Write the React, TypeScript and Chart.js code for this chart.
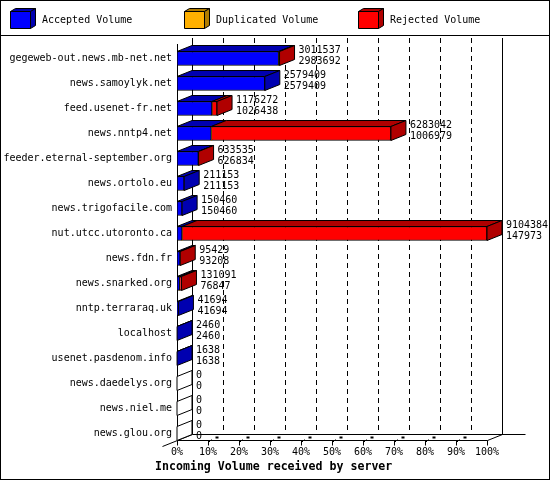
import React, { useEffect, useRef } from 'react';
import { Chart, registerables } from 'chart.js';

Chart.register(...registerables);

const servers = [
  'gegeweb-out.news.mb-net.net',
  'news.samoylyk.net',
  'feed.usenet-fr.net',
  'news.nntp4.net',
  'feeder.eternal-september.org',
  'news.ortolo.eu',
  'news.trigofacile.com',
  'nut.utcc.utoronto.ca',
  'news.fdn.fr',
  'news.snarked.org',
  'nntp.terraraq.uk',
  'localhost',
  'usenet.pasdenom.info',
  'news.daedelys.org',
  'news.niel.me',
  'news.glou.org',
];

// total incoming volume per server (first number printed next to the bar)
const totalVolume = [3011537, 2579409, 1176272, 6283042, 633535, 211153, 150460, 9104384, 95429, 131091, 41694, 2460, 1638, 0, 0, 0];
// accepted volume (second number)
const acceptedVolume = [2983692, 2579409, 1026438, 1006979, 626834, 211153, 150460, 147973, 93208, 76847, 41694, 2460, 1638, 0, 0, 0];
const duplicatedVolume = [0, 0, 0, 0, 0, 0, 0, 0, 0, 0, 0, 0, 0, 0, 0, 0];

const percentTicks = [0, 10, 20, 30, 40, 50, 60, 70, 80, 90, 100];

const seriesNames = ['Accepted Volume', 'Duplicated Volume', 'Rejected Volume'];
const frontColors = ['#0000ff', '#ffb000', '#ff0000'];
const shadeColors = ['#0000b0', '#b07c00', '#b00000'];

const FONT = '"DejaVu Sans Mono", monospace';
const DX = 15;
const DY = 6;

const maxVolume = Math.max(...totalVolume);
const toPct = (v: number) => (v / maxVolume) * 100;

const rejectedVolume = totalVolume.map((t, i) => t - acceptedVolume[i] - duplicatedVolume[i]);

function poly(ctx: CanvasRenderingContext2D, pts: number[][], fill: string | null) {
  ctx.beginPath();
  ctx.moveTo(pts[0][0], pts[0][1]);
  for (let i = 1; i < pts.length; i++) ctx.lineTo(pts[i][0], pts[i][1]);
  ctx.closePath();
  if (fill) {
    ctx.fillStyle = fill;
    ctx.fill();
  }
  ctx.strokeStyle = '#000';
  ctx.lineWidth = 1;
  ctx.stroke();
}

function line(ctx: CanvasRenderingContext2D, x1: number, y1: number, x2: number, y2: number) {
  ctx.beginPath();
  ctx.moveTo(x1, y1);
  ctx.lineTo(x2, y2);
  ctx.stroke();
}

const threeD = {
  id: 'threeD',
  beforeDatasetsDraw(chart: any) {
    const { ctx, chartArea, scales } = chart;
    const x = scales.x;
    const left = Math.round(x.getPixelForValue(0)) + 0.5;
    const right = Math.round(x.getPixelForValue(100)) + 0.5;
    const frontTop = chartArea.top - 2;
    const floorFront = Math.round(chartArea.bottom - 6) + 0.5;
    const floorBack = floorFront - DY;
    const backTop = frontTop - DY;

    ctx.save();
    ctx.strokeStyle = '#000';
    ctx.lineWidth = 1;

    // dashed grid on the back wall
    ctx.setLineDash([5, 4]);
    percentTicks.slice(1, -1).forEach((v) => {
      const bx = Math.round(x.getPixelForValue(v)) + DX + 0.5;
      line(ctx, bx, backTop, bx, floorBack);
    });
    ctx.setLineDash([]);

    // walls
    line(ctx, left + DX, backTop, left + DX, floorBack);
    line(ctx, right + DX, backTop, right + DX, floorBack);
    line(ctx, left, frontTop, left, floorFront);

    // floor
    line(ctx, left + DX, floorBack, right + DX + 23, floorBack);
    line(ctx, left, floorFront, right, floorFront);
    line(ctx, left - DX, floorFront + DY, left + DX, floorBack);
    line(ctx, right, floorFront, right + DX, floorBack);

    // tick marks on the floor
    ctx.fillStyle = '#000';
    percentTicks.forEach((v) => {
      const tx = Math.round(x.getPixelForValue(v)) + 0.5;
      line(ctx, tx, floorFront, tx, floorFront + 5);
      if (v > 0 && v < 100) {
        line(ctx, tx, floorFront + 2, tx + 3, floorFront - 1);
        ctx.fillRect(tx + 7, floorFront - 4, 3, 2);
      }
    });
    ctx.restore();
  },
  afterDatasetsDraw(chart: any) {
    const { ctx } = chart;
    const metas = [0, 1, 2].map((d) => chart.getDatasetMeta(d));
    ctx.save();
    servers.forEach((_, i) => {
      const values = [acceptedVolume[i], duplicatedVolume[i], rejectedVolume[i]];
      const els = metas.map((m: any) => m.data[i].getProps(['x', 'y', 'base', 'height'], true));
      const top = els[0].y - els[0].height / 2;
      const bottom = els[0].y + els[0].height / 2;
      let last = -1;
      values.forEach((v, d) => {
        if (v <= 0) return;
        last = d;
        const x0 = Math.min(els[d].base, els[d].x);
        const x1 = Math.max(els[d].base, els[d].x);
        poly(ctx, [[x0, top], [x1, top], [x1 + DX, top - DY], [x0 + DX, top - DY]], shadeColors[d]);
      });
      const endX = last >= 0 ? Math.max(els[last].base, els[last].x) : els[0].base;
      poly(
        ctx,
        [[endX, top], [endX + DX, top - DY], [endX + DX, bottom - DY], [endX, bottom]],
        last >= 0 ? shadeColors[last] : '#fff'
      );

      ctx.fillStyle = '#000';
      ctx.font = `10px ${FONT}`;
      ctx.textAlign = 'left';
      ctx.textBaseline = 'middle';
      ctx.fillText(String(totalVolume[i]), endX + DX + 4, els[0].y - 8.5);
      ctx.fillText(String(acceptedVolume[i]), endX + DX + 4, els[0].y + 2.5);
    });
    ctx.restore();
  },
  afterDraw(chart: any) {
    const { ctx, width, height } = chart;
    ctx.save();
    ctx.strokeStyle = '#000';
    ctx.lineWidth = 1;
    ctx.strokeRect(0.5, 0.5, width - 1, height - 1);
    line(ctx, 0, 35.5, width, 35.5);

    // legend with little 3d boxes
    const legendX = [10, 184, 358];
    ctx.font = `10px ${FONT}`;
    ctx.textBaseline = 'middle';
    ctx.textAlign = 'left';
    seriesNames.forEach((name, d) => {
      const bx = legendX[d] + 0.5;
      const by = 11.5;
      poly(ctx, [[bx, by], [bx + 20, by], [bx + 20, by + 17], [bx, by + 17]], frontColors[d]);
      poly(ctx, [[bx, by], [bx + 20, by], [bx + 25, by - 3], [bx + 5, by - 3]], shadeColors[d]);
      poly(ctx, [[bx + 20, by], [bx + 25, by - 3], [bx + 25, by + 14], [bx + 20, by + 17]], shadeColors[d]);
      ctx.fillStyle = '#000';
      ctx.fillText(name, legendX[d] + 32, 20);
    });

    ctx.font = `bold 11.6px ${FONT}`;
    ctx.fillText('Incoming Volume received by server', 155, 467);
    ctx.restore();
  },
};

export default function App() {
  const canvasRef = useRef<HTMLCanvasElement>(null);

  useEffect(() => {
    document.body.style.margin = '0';
    if (!canvasRef.current) return;
    const font = { family: FONT, size: 10 };
    const series = [acceptedVolume, duplicatedVolume, rejectedVolume];

    const chart = new Chart(canvasRef.current, {
      type: 'bar',
      data: {
        labels: servers,
        datasets: series.map((vals, d) => ({
          label: seriesNames[d],
          data: vals.map(toPct),
          backgroundColor: frontColors[d],
          borderColor: '#000',
          borderWidth: (c: any) => (c.raw > 0 ? 1 : 0),
          borderSkipped: false,
          barThickness: 14,
        })),
      },
      options: {
        indexAxis: 'y',
        animation: false,
        responsive: false,
        layout: { padding: { top: 46, right: 63, left: 0, bottom: 0 } },
        plugins: { legend: { display: false }, tooltip: { enabled: false } },
        scales: {
          x: {
            stacked: true,
            min: 0,
            max: 100,
            ticks: {
              stepSize: 10,
              autoSkip: false,
              maxRotation: 0,
              padding: 0,
              color: '#000',
              font,
              callback: (v: any) => v + '%',
            },
            grid: { display: false, drawTicks: false },
            border: { display: false },
            afterFit: (s: any) => {
              s.height = 34;
            },
          },
          y: {
            stacked: true,
            ticks: { autoSkip: false, padding: 5, color: '#000', font },
            grid: { display: false, drawTicks: false },
            border: { display: false },
            afterFit: (s: any) => {
              s.width = 177;
            },
          },
        },
      } as any,
      plugins: [threeD],
    });

    return () => chart.destroy();
  }, []);

  return (
    <div style={{ width: 550, height: 480, background: '#fff' }}>
      <canvas ref={canvasRef} width={550} height={480} style={{ display: 'block' }} />
    </div>
  );
}
